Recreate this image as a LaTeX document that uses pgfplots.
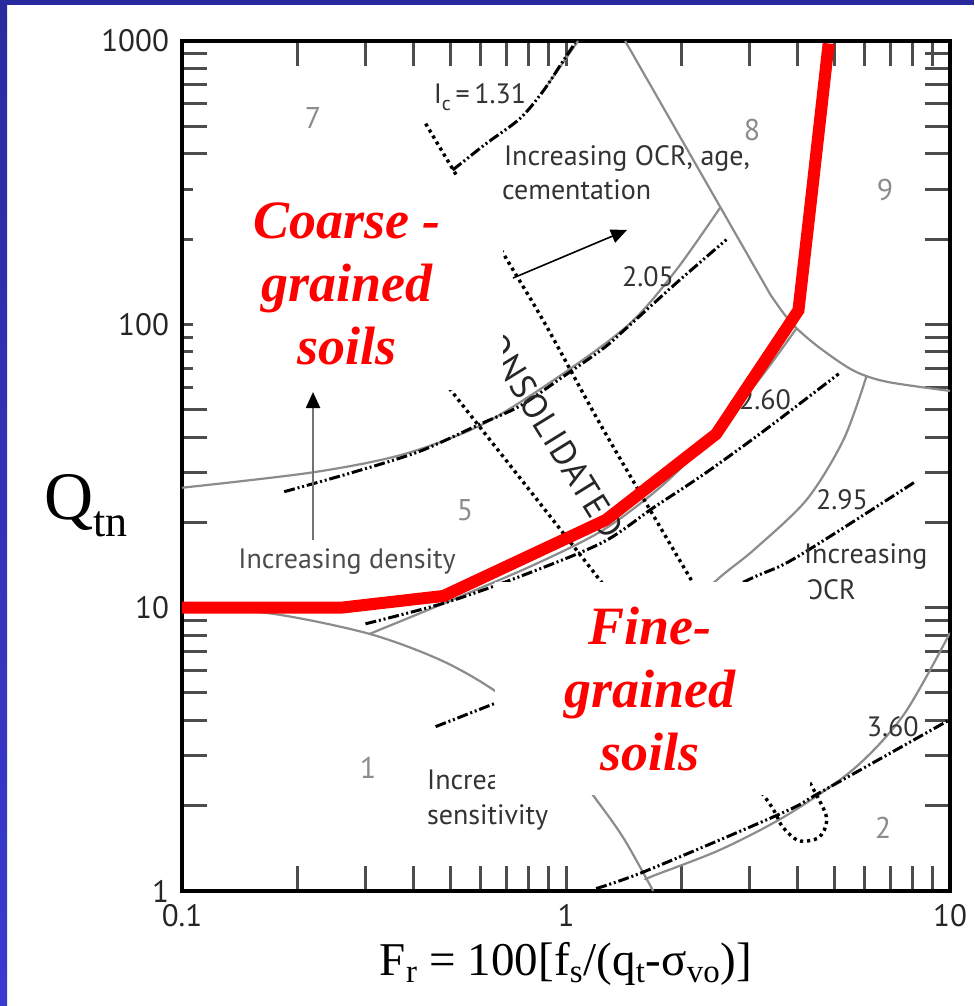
\documentclass[border=0pt]{standalone}
\usepackage{fontspec}
\setmainfont{Liberation Serif}
\newfontfamily\sansf{PT Sans}
\newfontfamily\sansspaced[LetterSpace=4]{PT Sans}
\usepackage{pgfplots}
\pgfplotsset{compat=1.18}
\usetikzlibrary{arrows.meta}

\definecolor{slideblue}{RGB}{42,42,160}
\definecolor{slidebluelight}{RGB}{58,58,208}
\definecolor{zonegray}{RGB}{140,140,140}

\tikzset{
  zone/.style={zonegray, line width=1.1pt, smooth, tension=0.5},
  ic/.style={black, line width=1.5pt, smooth, tension=0.5,
    dash pattern=on 5.5pt off 1.4pt on 1pt off 1.4pt on 1pt off 1.4pt},
  nc/.style={black, line width=1.7pt, smooth, tension=0.5,
    dash pattern=on 1.6pt off 1.9pt},
  lab/.style={font=\sansf\fontsize{14}{14}\selectfont, text=black!80},
  zonenum/.style={font=\sansf\fontsize{15}{15}\selectfont, text=black!45},
  soil/.style={text=red, font=\bfseries\itshape\fontsize{27}{31.5}\selectfont, align=center},
}

\begin{document}
\begin{tikzpicture}
\useasboundingbox (0,0) rectangle (487pt,503pt);
\fill[white] (0,0) rectangle (487pt,503pt);
\fill[slideblue] (0,500.5pt) rectangle (487pt,503pt);
\shade[top color=slideblue, bottom color=slidebluelight] (0,0) rectangle (3.5pt,503pt);

\begin{axis}[
  at={(91pt,57.5pt)}, anchor=south west,
  scale only axis, width=384pt, height=425pt,
  xmode=log, ymode=log,
  xmin=0.1, xmax=10, ymin=1, ymax=1000,
  xtick={0.1,1,10}, xticklabels={0.1,1,10},
  ytick={1,10,100,1000}, yticklabels={1,10,100,1000},
  minor xtick={0.2,0.3,0.4,0.5,0.6,0.7,0.8,0.9,2,3,4,5,6,7,8,9},
  minor ytick={2,3,4,5,6,7,8,9,20,30,40,50,60,70,80,90,200,300,400,500,600,700,800,900},
  tick align=inside,
  major tick length=12.5pt, minor tick length=12.5pt,
  tick style={line width=1.5pt, black!70},
  axis line style={line width=2pt, black},
  ticklabel style={font=\sansf\fontsize{15.5}{15.5}\selectfont, text=black!85},
  xticklabel style={yshift=-3pt},
  yticklabel style={xshift=-3pt},
]

% soil behaviour type zone boundaries
\addplot[zone] coordinates {(0.1,26.5) (0.218,30.0) (0.375,34.7) (0.607,44.4) (0.982,66.9) (1.469,100.8) (1.938,155.7) (2.52,258)};
\addplot[zone, sharp plot] coordinates {(1.426,1000) (3.41,127)};
\addplot[zone] coordinates {(3.41,127) (3.686,109.4) (3.985,96.8) (4.604,82.1) (5.614,68.6) (6.846,62.7) (10,58.2)};
\addplot[zone] coordinates {(0.308,8.08) (0.486,10.42) (0.820,14.11) (1.249,18.79) (1.792,27.18) (2.494,42.6) (3.268,66.9) (3.985,96.8)};
\addplot[zone] coordinates {(6.07,66) (5.287,39.3) (4.232,24.03) (3.078,15.95) (2.464,12.48) (1.687,7.63) (1.0,2.92)};
\addplot[zone] coordinates {(0.1,10) (0.172,9.52) (0.308,8.08) (0.4775,6.48) (0.6726,4.943) (0.925,3.363) (1.176,2.178) (1.409,1.544) (1.687,1)};
\addplot[zone] coordinates {(10,8.15) (7.585,4.196) (5.614,2.696) (3.753,1.849) (2.524,1.399) (1.687,1.131) (1.618,1.10)};
\addplot[zone, sharp plot] coordinates {(1.075,1000) (0.8974,703)};

% Ic contours
\addplot[ic] coordinates {(0.507,350.4) (0.6184,433.5) (0.7585,532.1) (0.8707,663.8) (0.982,848.8) (1.056,983.8)};
\addplot[ic] coordinates {(0.1846,25.66) (0.2779,30.0) (0.4158,35.62) (0.5964,44.4) (0.7585,51.47) (0.982,65.3) (1.249,82.1) (1.435,96.8) (1.938,139.9) (2.617,199.1)};
\addplot[ic] coordinates {(0.3005,8.77) (0.4862,10.42) (0.7722,13.0) (1.249,17.03) (1.687,22.51) (2.279,29.5) (3.268,41.96) (5.131,66.9)};
\addplot[ic] coordinates {(8.054,27.63) (3.985,15.06) (3.078,12.79) (2.021,9.76)};
\addplot[ic] coordinates {(1.198,1.02) (1.618,1.178) (3.686,1.895) (4.604,2.233) (10,4.027)};
\addplot[ic] coordinates {(0.4576,3.803) (0.6726,4.667) (0.8707,5.364)};

% normally consolidated band
\addplot[nc] coordinates {(0.4311,510.8) (0.507,353.2) (0.6971,171.7) (0.8867,99.2) (1.249,42.65) (2.146,12.17) (3.268,4.667) (4.495,2.178) (4.774,1.775) (4.55,1.544) (4.034,1.506) (3.642,1.703) (3.327,2.108) (2.021,5.148) (1.227,12.48) (0.7722,27.85) (0.498,59.2) (0.4232,78.8)};

% zone numbers and contour labels
\node[zonenum] at (axis cs:0.2194,534.8) {7};
\node[zonenum] at (axis cs:3.05,485.1) {8};
\node[zonenum] at (axis cs:6.77,298) {9};
\node[zonenum] at (axis cs:0.5458,22.1) {5};
\node[zonenum] at (axis cs:0.305,2.716) {1};
\node[zonenum] at (axis cs:6.69,1.667) {2};
\node[lab] at (axis cs:0.597,634.3) {I\raisebox{-3.5pt}{\fontsize{10}{10}\selectfont c}\,=\,1.31};
\node[lab, anchor=west] at (axis cs:0.6613,386.4) {Increasing OCR, age,};
\node[lab, anchor=west] at (axis cs:0.6532,298) {cementation};
\node[lab] at (axis cs:1.635,146.9) {2.05};
\node[lab] at (axis cs:3.298,54.05) {2.60};
\node[lab] at (axis cs:5.234,23.98) {2.95};
\node[lab] at (axis cs:7.10,3.789) {3.60};
\node[lab, text=black!70] at (axis cs:0.269,14.49) {Increasing density};
\node[lab, anchor=west] at (axis cs:3.996,15.09) {Increasing};
\node[lab, anchor=west] at (axis cs:3.996,11.54) {OCR};
\node[lab, anchor=west] at (axis cs:0.4168,2.423) {Increasing};
\node[lab, anchor=west] at (axis cs:0.4168,1.823) {sensitivity};
\node[font=\sansspaced\fontsize{17.5}{17.5}\selectfont, text=black!85, rotate=-58.3, anchor=east, inner sep=0pt] at (axis cs:1.342,18.04) {CONSOLIDATED};

% trend arrows
\draw[black!55, line width=1.2pt, -{Triangle[length=8pt,width=7pt,color=black]}] (axis cs:0.2194,17.32) -- (axis cs:0.2194,57.7);
\draw[black, line width=0.8pt, -{Triangle[length=8pt,width=7pt]}] (axis cs:0.7278,145.7) -- (axis cs:1.442,215.3);

% soil group panels
\fill[white] (axis cs:0.1068,58.6) rectangle (axis cs:0.6855,331.1);
\fill[white] (axis cs:0.6532,2.180) rectangle (axis cs:4.319,12.31);
\node[soil] at (axis cs:0.269,138.8) {Coarse -\\grained\\soils};
\node[soil] at (axis cs:1.655,5.16) {Fine-\\grained\\soils};

% coarse / fine divide
\addplot[red, line width=6pt, sharp plot] coordinates {(0.1,10) (0.26,10) (0.48,11) (1.27,20.4) (2.46,41) (4.03,112) (4.31,248) (4.83,980)};
\end{axis}

\node[anchor=base west, inner sep=0pt] at (22pt,243pt)
  {\fontsize{34}{34}\selectfont Q\raisebox{-8.5pt}{\fontsize{22}{22}\selectfont tn}};
\node[anchor=base, inner sep=0pt] at (283pt,15.5pt)
  {\fontsize{23.5}{23.5}\selectfont F\textsubscript{r} = 100[f\textsubscript{s}/(q\textsubscript{t}-σ\textsubscript{vo})]};
\end{tikzpicture}
\end{document}
